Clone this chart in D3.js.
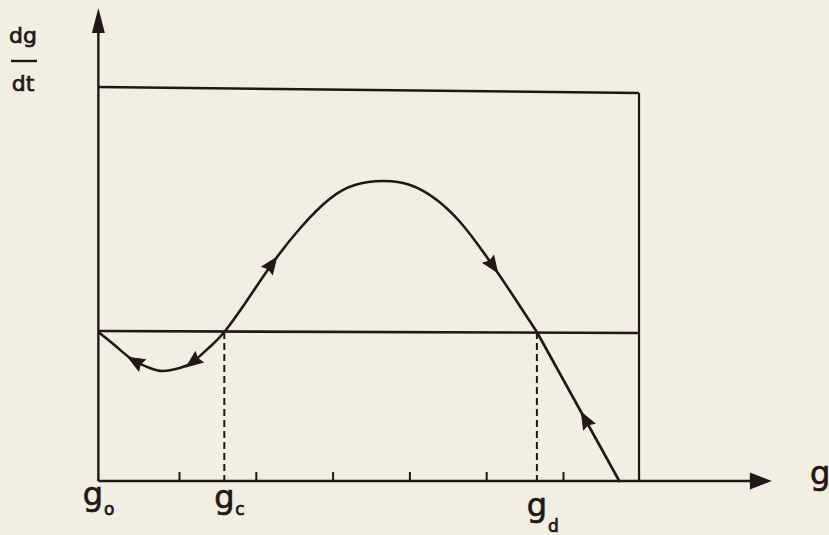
<!DOCTYPE html>
<html>
<head>
<meta charset="utf-8">
<script src="https://cdn.jsdelivr.net/npm/d3@7"></script>
<style>
  html, body { margin: 0; padding: 0; background: #f2eee2; }
  svg { display: block; }
  text { font-family: "DejaVu Sans", sans-serif; fill: #221714; stroke: #221714; stroke-width: 0.7px; }
</style>
</head>
<body>
<svg id="chart" width="829" height="535"></svg>
<script>
// ---- data (g = state variable, rate = dg/dt) ----
const curveG    = [-0.05, 0.19, 0.40, 0.62, 0.79, 1.01, 1.18, 1.40, 1.59, 1.89, 2.21, 2.58, 2.96, 3.29, 3.66, 4.01, 4.34, 4.66, 4.98, 5.31, 5.66];
const curveRate = [0.00, -0.15, -0.28, -0.36, -0.39, -0.36, -0.30, -0.15, 0.00, 0.32, 0.68, 1.04, 1.33, 1.47, 1.51, 1.47, 1.33, 1.10, 0.78, 0.41, 0.00];
const tailG     = [5.66, 6.74];
const tailRate  = [0.00, -1.50];
const arrowG    = [0.43, 1.18, 2.21, 5.09, 6.29];
const arrowDir  = [-1, -1, 1, 1, -1];
const tickValues = [1, 2, 3, 4, 5, 6];
const gc = 1.59, gd = 5.66;
const boxRight = 6.99;
const boxTopLeft = 2.45, boxTopRight = 2.39;
const axisRate = -1.49;
const axisEndG = 8.72;
const axisTopRate = 3.24;
const axisStartG = -0.05;
const labelMain = ["g", "g", "g"];
const labelSub  = ["o", "c", "d"];
const labelG    = [-0.12, gc, gd];

// ---- scales ----
const x = d3.scaleLinear().domain([0, 8.75]).range([102.2, 774.2]);
const y = d3.scaleLinear().domain([-1.5, 3.25]).range([482, 7]);

const ink = "#221714";
const svg = d3.select("#chart");

svg.append("rect").attr("width", 829).attr("height", 535).attr("fill", "#f2eee2");
const g = svg.append("g");

// ticks via d3 axis (upward ticks, no labels)
const axis = d3.axisBottom(x).tickValues(tickValues).tickSize(-9).tickFormat("");
const axG = g.append("g").attr("transform", `translate(0,${y(axisRate)})`).call(axis);
axG.select(".domain").remove();
axG.selectAll(".tick line").attr("stroke", ink).attr("stroke-width", 2);

// x axis line + arrow
g.append("line")
  .attr("x1", x(axisStartG)).attr("x2", x(axisEndG) - 10)
  .attr("y1", y(axisRate)).attr("y2", y(axisRate))
  .attr("stroke", ink).attr("stroke-width", 2.6);
g.append("path")
  .attr("d", `M${x(axisEndG)},${y(axisRate)} L${x(axisEndG) - 22},${y(axisRate) - 8.5} L${x(axisEndG) - 22},${y(axisRate) + 8.5} Z`)
  .attr("fill", ink);

// y axis line + arrow
g.append("line")
  .attr("x1", x(axisStartG)).attr("x2", x(axisStartG))
  .attr("y1", y(axisRate)).attr("y2", y(axisTopRate) + 10)
  .attr("stroke", ink).attr("stroke-width", 2.4);
g.append("path")
  .attr("d", `M${x(axisStartG)},${y(axisTopRate)} L${x(axisStartG) - 6.5},${y(axisTopRate) + 25} L${x(axisStartG) + 6.5},${y(axisTopRate) + 25} Z`)
  .attr("fill", ink);

// box: top line, right side, zero line
g.append("line")
  .attr("x1", x(axisStartG)).attr("y1", y(boxTopLeft))
  .attr("x2", x(boxRight)).attr("y2", y(boxTopRight))
  .attr("stroke", ink).attr("stroke-width", 2.6);
g.append("line")
  .attr("x1", x(boxRight)).attr("y1", y(boxTopRight))
  .attr("x2", x(boxRight)).attr("y2", y(axisRate))
  .attr("stroke", ink).attr("stroke-width", 2.2);
g.append("line")
  .attr("x1", x(axisStartG)).attr("y1", y(0.01))
  .attr("x2", x(boxRight)).attr("y2", y(-0.01))
  .attr("stroke", ink).attr("stroke-width", 2.6);

// dashed drop lines at gc and gd
[gc, gd].forEach(v => {
  g.append("line")
    .attr("x1", x(v)).attr("x2", x(v))
    .attr("y1", y(0)).attr("y2", y(axisRate))
    .attr("stroke", ink).attr("stroke-width", 2)
    .attr("stroke-dasharray", "7,4");
});

// curve
const smooth = d3.line().x(d => x(d[0])).y(d => y(d[1])).curve(d3.curveNatural);
const curvePts = curveG.map((v, i) => [v, curveRate[i]]);
const tailPts = tailG.map((v, i) => [v, tailRate[i]]);
const curvePath = g.append("path")
  .attr("d", smooth(curvePts))
  .attr("fill", "none").attr("stroke", ink).attr("stroke-width", 2.6);
const tailPath = g.append("path")
  .attr("d", d3.line().x(d => x(d[0])).y(d => y(d[1]))(tailPts))
  .attr("fill", "none").attr("stroke", ink).attr("stroke-width", 2.6);

// arrowheads along curve
function pointAtX(pathNode, px) {
  const L = pathNode.getTotalLength();
  let best = 0, bd = Infinity;
  for (let l = 0; l <= L; l += 0.5) {
    const p = pathNode.getPointAtLength(l);
    const dd = Math.abs(p.x - px);
    if (dd < bd) { bd = dd; best = l; }
  }
  return { l: best, L };
}
arrowG.forEach((v, i) => {
  const node = v > gd ? tailPath.node() : curvePath.node();
  const { l, L } = pointAtX(node, x(v));
  const p = node.getPointAtLength(l);
  const p1 = node.getPointAtLength(Math.max(0, l - 2));
  const p2 = node.getPointAtLength(Math.min(L, l + 2));
  let ang = Math.atan2(p2.y - p1.y, p2.x - p1.x) * 180 / Math.PI;
  if (arrowDir[i] < 0) ang += 180;
  g.append("path")
    .attr("d", "M8,0 L-8,-6.5 L-6,0 L-8,6.5 Z")
    .attr("transform", `translate(${p.x},${p.y}) rotate(${ang})`)
    .attr("fill", ink).attr("stroke", ink).attr("stroke-width", 1);
});

// labels
const mainBaselines = [505, 508, 516];
const subBaselines  = [515, 515, 532];
labelMain.forEach((t, i) => {
  g.append("text")
    .attr("x", x(labelG[i])).attr("y", mainBaselines[i])
    .attr("text-anchor", "middle").attr("font-size", 32)
    .text(t);
  g.append("text")
    .attr("x", x(labelG[i]) + 11).attr("y", subBaselines[i])
    .attr("font-size", 17)
    .text(labelSub[i]);
});
// right axis label
g.append("text").attr("x", 810).attr("y", 484).attr("font-size", 32).text("g");

// y label dg/dt
g.append("text").attr("x", 23).attr("y", 43).attr("text-anchor", "middle").attr("font-size", 22).text("dg");
g.append("line").attr("x1", 11).attr("x2", 37).attr("y1", 61).attr("y2", 61).attr("stroke", ink).attr("stroke-width", 2.4);
g.append("text").attr("x", 23).attr("y", 91).attr("text-anchor", "middle").attr("font-size", 22).text("dt");
</script>
</body>
</html>
